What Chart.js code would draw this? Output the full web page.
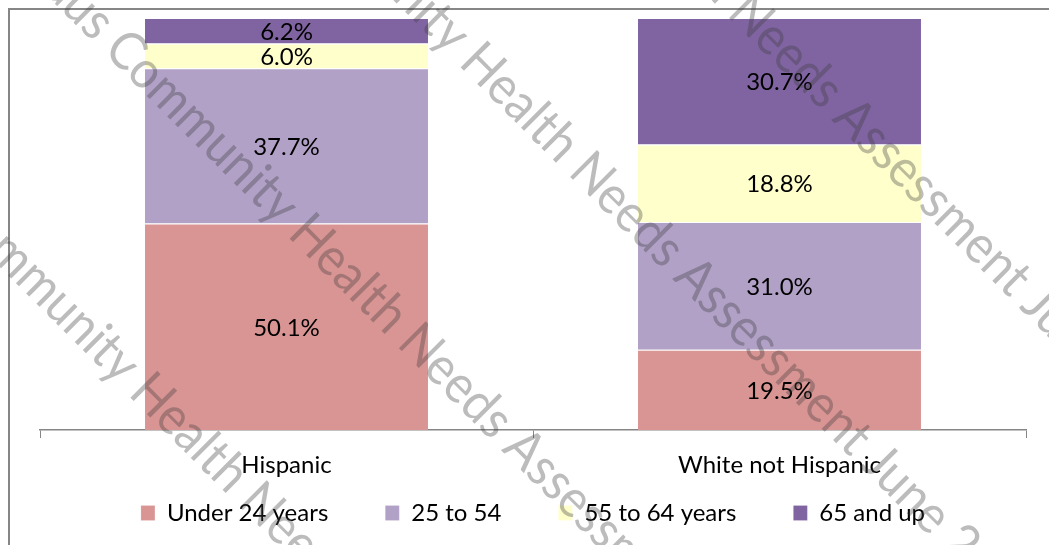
<!DOCTYPE html>
<html>
<head>
<meta charset="utf-8">
<script src="https://cdn.jsdelivr.net/npm/chart.js@4.4.1/dist/chart.umd.min.js"></script>
<style>
  html, body { margin: 0; padding: 0; background: #fff; }
  #wrap { width: 1049px; height: 545px; }
</style>
</head>
<body>
<div id="wrap"><canvas id="ageChart" width="1049" height="545"></canvas></div>
<script>
// chart data
const categories = ['Hispanic', 'White not Hispanic'];
const seriesNames = ['Under 24 years', '25 to 54', '55 to 64 years', '65 and up'];
const under24 = [50.1, 19.5];
const age25to54 = [37.7, 31.0];
const age55to64 = [6.0, 18.8];
const age65up = [6.2, 30.7];
const seriesColors = ['#D99594', '#B2A1C7', '#FFFFCC', '#8064A2'];
const watermarkText = 'Stanislaus Community Health Needs Assessment June 2013';

const FONT = 'Lato';
const FONT_SIZE = 24;
const AXIS_GRAY = '#868686';

// white background + the grey frame of the chart object
const framePlugin = {
    id: 'frame',
    beforeDraw(chart) {
        const ctx = chart.ctx;
        ctx.save();
        ctx.fillStyle = '#fff';
        ctx.fillRect(0, 0, chart.width, chart.height);
        ctx.strokeStyle = AXIS_GRAY;
        ctx.lineWidth = 2;
        ctx.strokeRect(9, 9, chart.width + 20, chart.height + 20);
        ctx.restore();
    },
    // the x scale is kept short so the legend sits close to it,
    // but its labels still need room below the axis line
    afterLayout(chart) {
        const x = chart.scales.x;
        x.bottom = x.top + 70;
    }
};

// percent labels in the middle of every segment
const segmentLabels = {
    id: 'segmentLabels',
    afterDatasetsDraw(chart) {
        const ctx = chart.ctx;
        ctx.save();
        ctx.font = FONT_SIZE + 'px ' + FONT;
        ctx.fillStyle = '#000';
        ctx.textAlign = 'center';
        ctx.textBaseline = 'middle';
        chart.data.datasets.forEach((ds, i) => {
            chart.getDatasetMeta(i).data.forEach((bar, j) => {
                ctx.fillText(ds.data[j].toFixed(1) + '%', bar.x, (bar.y + bar.base) / 2 + 1);
            });
        });
        ctx.restore();
    }
};

// diagonal document watermark on top of everything
const watermarkPlugin = {
    id: 'watermark',
    afterDraw(chart) {
        const ctx = chart.ctx;
        const angle = Math.PI / 4;
        const dx = Math.cos(angle), dy = Math.sin(angle);
        const along = 369;
        const offsets = [189, -36, -278, -503];
        ctx.save();
        ctx.font = '53px ' + FONT;
        ctx.fillStyle = 'rgba(60, 60, 60, 0.34)';
        ctx.textBaseline = 'alphabetic';
        const squeeze = 556 / ctx.measureText('Health Needs Assessment').width;
        const prefix = ctx.measureText('Stanislaus Community ').width;
        offsets.forEach(p => {
            ctx.save();
            ctx.translate(along * dx - p * dy, along * dy + p * dx);
            ctx.rotate(angle);
            ctx.scale(squeeze, 1);
            ctx.fillText(watermarkText, -prefix, 0);
            ctx.restore();
        });
        ctx.restore();
    }
};

const values = [under24, age25to54, age55to64, age65up];

const datasets = seriesNames.map((name, i) => ({
    label: name,
    data: values[i],
    backgroundColor: seriesColors[i],
    borderColor: 'rgba(255, 255, 255, 0.7)',
    borderWidth: { top: 1, left: 0, right: 0, bottom: 0 },
    borderSkipped: false,
    barPercentage: 0.574,
    categoryPercentage: 1.0
}));

new Chart(document.getElementById('ageChart'), {
    type: 'bar',
    data: { labels: categories, datasets: datasets },
    options: {
        responsive: false,
        devicePixelRatio: 1,
        animation: false,
        layout: { padding: { left: 40, right: 23, top: 18, bottom: 10 } },
        plugins: {
            legend: {
                position: 'bottom',
                labels: {
                    font: { family: FONT, size: FONT_SIZE },
                    color: '#000',
                    boxWidth: 14,
                    boxHeight: 15,
                    padding: 57
                }
            },
            tooltip: { enabled: false }
        },
        scales: {
            x: {
                stacked: true,
                grid: {
                    offset: true,
                    drawOnChartArea: false,
                    drawTicks: true,
                    tickLength: 8,
                    color: AXIS_GRAY
                },
                border: { display: true, color: AXIS_GRAY, width: 1.5 },
                ticks: {
                    font: { family: FONT, size: FONT_SIZE },
                    color: '#000',
                    padding: 13
                },
                afterFit(scale) { scale.height = 14; }
            },
            y: {
                stacked: true,
                display: false,
                min: 0,
                max: 100
            }
        }
    },
    plugins: [framePlugin, segmentLabels, watermarkPlugin]
});
</script>
</body>
</html>
